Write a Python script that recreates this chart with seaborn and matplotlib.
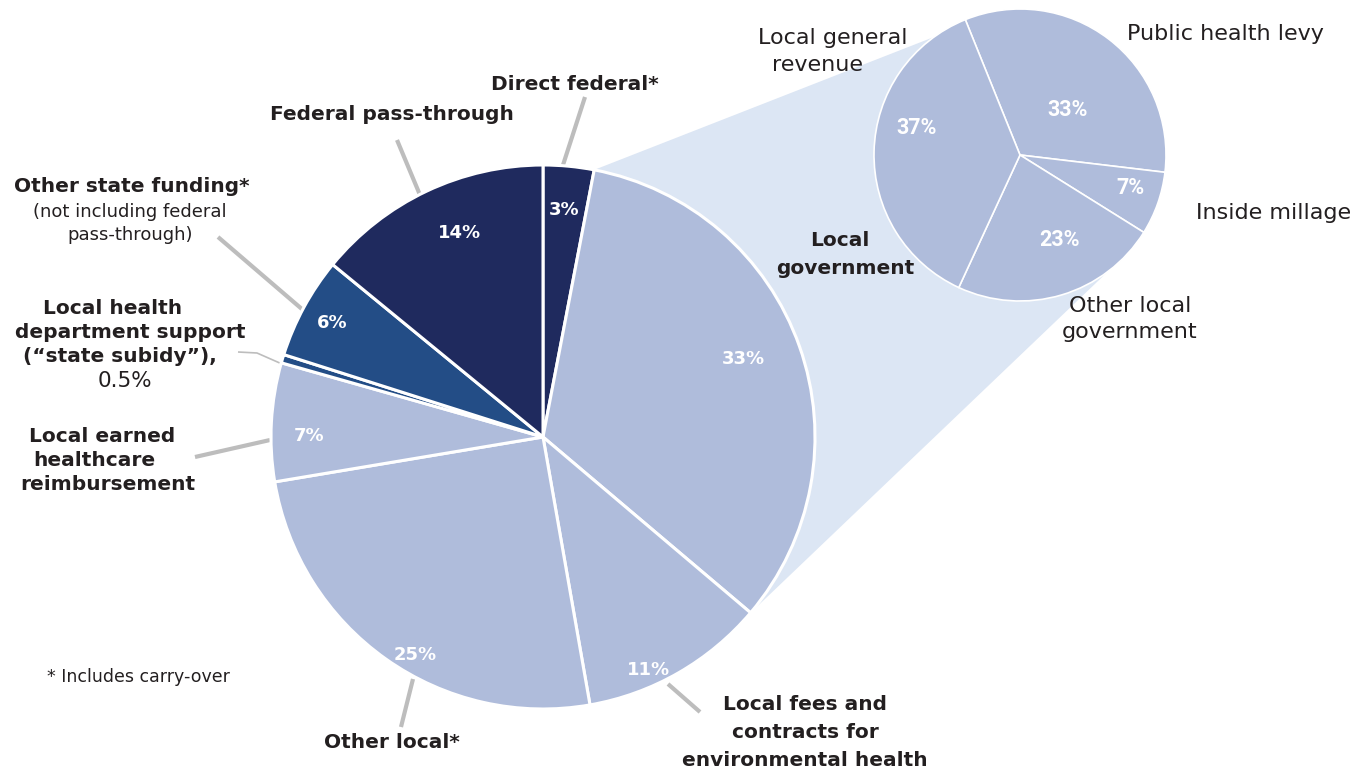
import numpy as np
import matplotlib
matplotlib.use("Agg")
import matplotlib.pyplot as plt
import seaborn as sns
from matplotlib.patches import Polygon

# ---------------- data ----------------
main_labels = ["Direct federal*", "Local government", "Local fees and contracts for environmental health",
               "Other local*", "Local earned healthcare reimbursement",
               "Local health department support (\u201cstate subidy\u201d)", "Other state funding*",
               "Federal pass-through"]
main_values = [3, 33, 11, 25, 7, 0.5, 6, 14]
main_pct_text = ["3%", "33%", "11%", "25%", "7%", "", "6%", "14%"]

sub_labels = ["Public health levy", "Inside millage", "Other local government", "Local general revenue"]
sub_values = [33, 7, 23, 37]
sub_pct_text = ["33%", "7%", "23%", "37%"]

# ---------------- style ----------------
sns.set_theme(style="white")
plt.rcParams['font.family'] = ['DejaVu Sans']

NAVY = "#1F2A5E"
MID = "#234D86"
LIGHT = "#AFBCDB"
CONN = "#DCE6F4"
TXT = "#231F20"
GREY = "#BDBDBD"

main_colors = [NAVY, LIGHT, LIGHT, LIGHT, LIGHT, MID, MID, NAVY]
sub_colors = [LIGHT] * 4

W, H = 1364, 772
fig = plt.figure(figsize=(W / 100, H / 100), dpi=100)
ax = fig.add_axes([0, 0, 1, 1])

# geometry (pixel-like data units, y up)
c1 = (543, H - 437)
r1 = 272
c2 = (1020, H - 155)
r2 = 146

wedges1, _ = ax.pie(main_values, colors=main_colors, startangle=90, counterclock=False,
                    center=c1, radius=r1, normalize=True,
                    wedgeprops=dict(edgecolor="white", linewidth=2.2), frame=True)
wedges2, _ = ax.pie(sub_values, colors=sub_colors, startangle=112, counterclock=False,
                    center=c2, radius=r2, normalize=True,
                    wedgeprops=dict(edgecolor="white", linewidth=1.2), frame=True)
for w in wedges1 + wedges2:
    w.set_zorder(3)


def pt(c, r, ang):
    a = np.deg2rad(ang)
    return (c[0] + r * np.cos(a), c[1] + r * np.sin(a))


# connector between Local government wedge and the sub pie
wg = wedges1[1]
poly = [pt(c1, r1, wg.theta2), pt(c2, r2, 126), c2, pt(c2, r2, -53),
        pt(c1, r1, wg.theta1), c1]
ax.add_patch(Polygon(poly, closed=True, facecolor=CONN, edgecolor="none", zorder=1))

# percentage labels in main pie
main_pct_dist = [0.84, 0.79, 0.94, 0.93, 0.86, 0.9, 0.88, 0.81]
main_pct_rot = [0, 1.8, -5.6, 5, 2.8, 0, 0, -3]
for w, t, d, o in zip(wedges1, main_pct_text, main_pct_dist, main_pct_rot):
    if not t:
        continue
    mid = (w.theta1 + w.theta2) / 2 + o
    x, y = pt(c1, r1 * d, mid)
    ax.text(x, y, t, color="white", fontsize=13, fontweight="bold", ha="center", va="center", zorder=5)

sub_pct_dist = [0.45, 0.79, 0.64, 0.73]
sub_pct_rot = [-9, 2.7, 8.6, -13]
for w, t, d, o in zip(wedges2, sub_pct_text, sub_pct_dist, sub_pct_rot):
    mid = (w.theta1 + w.theta2) / 2 + o
    x, y = pt(c2, r2 * d, mid)
    ax.text(x, y, t, color="white", fontsize=15.5, fontweight="bold", ha="center", va="center",
            family=["Roboto", "DejaVu Sans"], zorder=5)


def T(x, y, s, bold=True, size=14.5, color=TXT, **kw):
    ax.text(x, H - y, s, fontsize=size, fontweight="bold" if bold else "normal", color=color,
            ha=kw.pop("ha", "center"), va=kw.pop("va", "center"), zorder=6, linespacing=1.0, **kw)


def L(pts, lw=3, color=GREY):
    xs = [p[0] for p in pts]
    ys = [H - p[1] for p in pts]
    ax.plot(xs, ys, color=color, lw=lw, solid_capstyle="butt", zorder=2)


# labels and leader lines
T(575, 84, "Direct federal*")
L([(585, 97), (563, 165)])
T(392, 115, "Federal pass-through")
L([(397, 140), (420, 195)])
T(132, 187, "Other state funding*")
T(130, 212, "(not including federal", bold=False, size=13)
T(130, 235, "pass-through)", bold=False, size=13)
L([(218, 237), (303, 310)])
T(113, 308, "Local health")
T(130, 332, "department support")
T(120, 357, "(\u201cstate subidy\u201d),")
T(125, 381, "0.5%", bold=False, size=15.5)
L([(238, 352), (257, 353), (282, 364)], lw=1.2)
T(102, 437, "Local earned")
T(94, 461, "healthcare")
T(108, 485, "reimbursement")
L([(195, 457), (270, 440)])
T(392, 743, "Other local*")
L([(401, 727), (413, 679)])
T(805, 705, "Local fees and")
T(805, 733, "contracts for")
T(805, 761, "environmental health")
L([(700, 712), (668, 684)])
T(840, 241, "Local")
T(845, 268, "government")

T(833, 38, "Local general", bold=False, size=16)
T(817, 65, "revenue", bold=False, size=16)
T(1225, 34, "Public health levy", bold=False, size=16)
T(1274, 213, "Inside millage", bold=False, size=16)
T(1130, 306, "Other local", bold=False, size=16)
T(1130, 332, "government", bold=False, size=16)
T(138, 677, "* Includes carry-over", bold=False, size=12.5)

ax.set_xlim(0, W)
ax.set_ylim(0, H)
ax.set_aspect("equal")
ax.axis("off")
fig.savefig("out.png", dpi=100, facecolor="white")
